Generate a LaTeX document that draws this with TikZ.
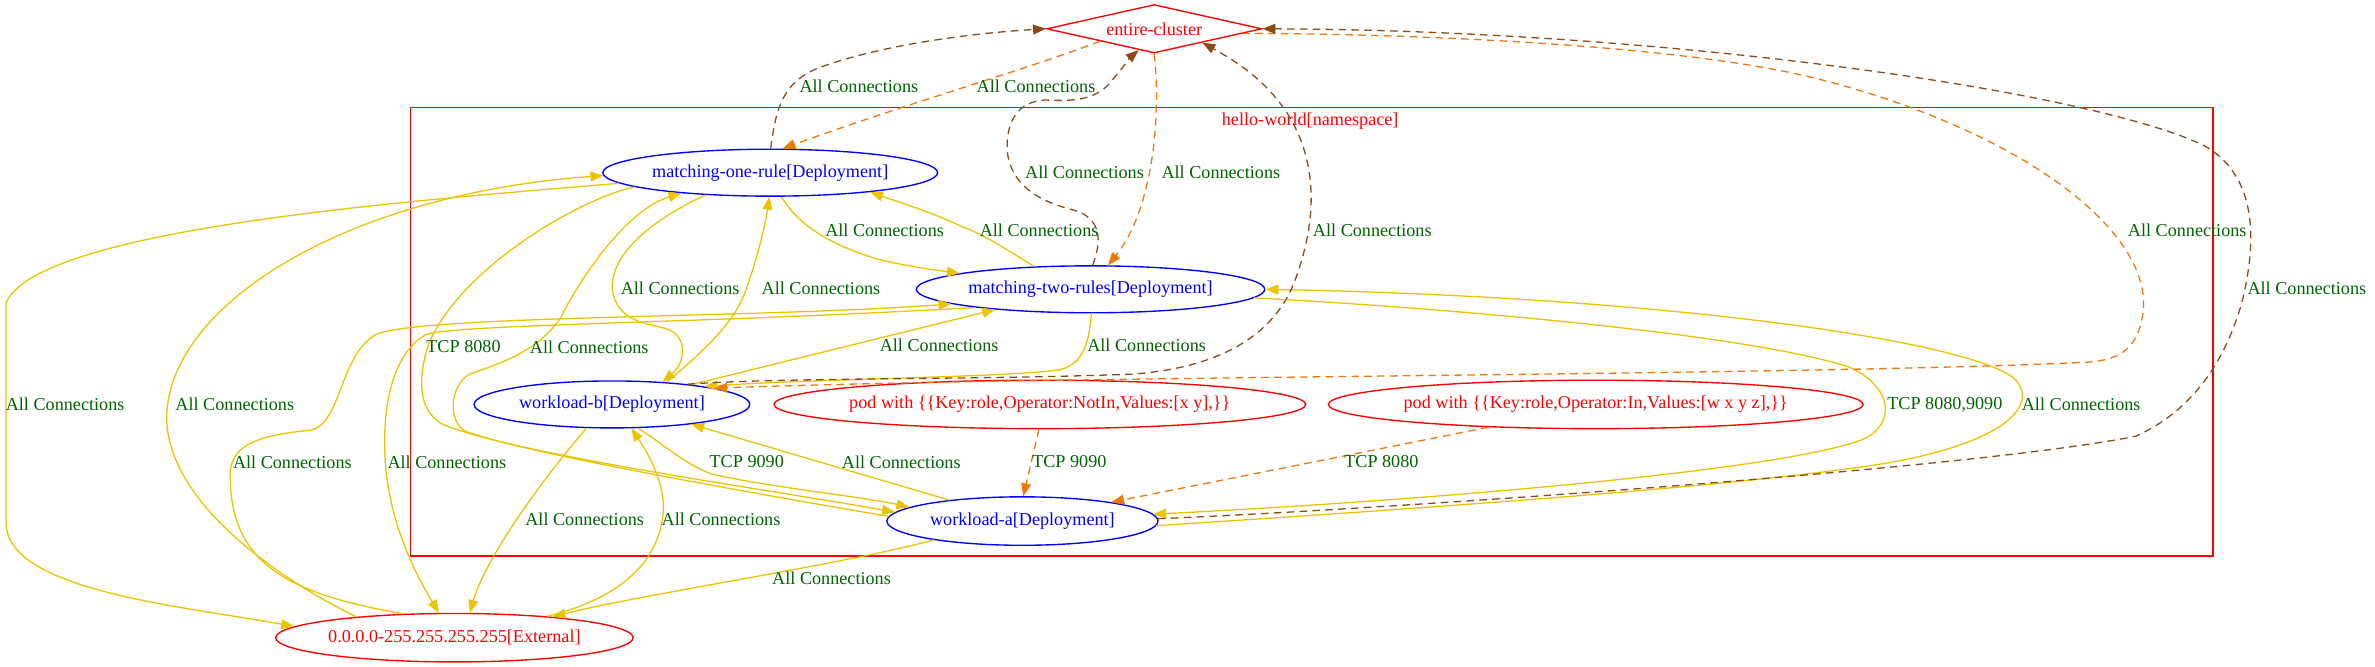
\documentclass[tikz,border=0pt]{standalone}
\usepackage{fontspec}
\setmainfont{Liberation Serif}
\usetikzlibrary{shapes.geometric,arrows.meta}
\definecolor{ylw}{RGB}{235,195,0}
\definecolor{org}{RGB}{240,120,10}
\definecolor{brn}{RGB}{140,75,20}
\definecolor{dgreen}{RGB}{0,100,0}
\begin{document}
\begin{tikzpicture}[x=1pt,y=-1pt,
  ell/.style={ellipse, draw, line width=0.9pt, inner sep=0pt},
  dep/.style={ell, draw=blue},
  ext/.style={ell, draw=red},
  ntxt/.style={font=\fontsize{12}{14}\selectfont, inner sep=0pt},
  elbl/.style={text=dgreen, font=\fontsize{12}{14}\selectfont, inner sep=0pt},
  tip/.style={-{Triangle[length=8.5pt,width=6.5pt]}},
  yl/.style={draw=ylw, line width=0.85pt, tip},
  od/.style={draw=org, line width=0.85pt, dash pattern=on 5pt off 3.5pt, tip},
  bd/.style={draw=brn, line width=0.85pt, dash pattern=on 5pt off 3.5pt, tip}]
\useasboundingbox (0,0) rectangle (1568,440);

% cluster
\draw[red, line width=0.9pt] (271,71) rectangle (1461,367);
\node[ntxt, text=red] (nslbl) at (865,80) {hello-world[namespace]};

% nodes
\node[diamond, draw=red, line width=0.9pt, minimum width=142pt, minimum height=32pt, inner sep=0pt] (EC) at (762,19) {};
\node[ntxt, text=red] (ECt) at (EC) {entire-cluster};
\node[dep, minimum width=221pt, minimum height=31pt] (M1) at (508.5,114) {};
\node[ntxt, text=blue] (M1t) at (M1) {matching-one-rule[Deployment]};
\node[dep, minimum width=230pt, minimum height=31pt] (M2) at (720,191) {};
\node[ntxt, text=blue] (M2t) at (M2) {matching-two-rules[Deployment]};
\node[dep, minimum width=182pt, minimum height=31pt] (WB) at (404,267) {};
\node[ntxt, text=blue] (WBt) at (WB) {workload-b[Deployment]};
\node[ext, minimum width=351pt, minimum height=32pt] (P1) at (686.5,267) {};
\node[ntxt, text=red] (P1t) at (P1) {pod with \{\{Key:role,Operator:NotIn,Values:[x y],\}\}};
\node[ext, minimum width=353pt, minimum height=32pt] (P2) at (1053.5,267) {};
\node[ntxt, text=red] (P2t) at (P2) {pod with \{\{Key:role,Operator:In,Values:[w x y z],\}\}};
\node[dep, minimum width=179pt, minimum height=32pt] (WA) at (675,344) {};
\node[ntxt, text=blue] (WAt) at (WA) {workload-a[Deployment]};
\node[ext, minimum width=236pt, minimum height=32pt] (EXT) at (300,421) {};
\node[ntxt, text=red] (EXTt) at (EXT) {0.0.0.0-255.255.255.255[External]};

% yellow edges
\draw[yl] (M1.184) .. controls (280,132) and (25,150) .. (4,200) -- (4,345) .. controls (4,390) and (120,400) .. (EXT.176);
\draw[yl] (EXT.168) .. controls (180,380) and (110,330) .. (110,275) .. controls (112,200) and (230,128) .. (M1.181);
\draw[yl] (EXT.155) .. controls (190,392) and (151,372) .. (152,312) .. controls (153,292) and (175,287) .. (205,284) .. controls (226,280) and (224,232) .. (250,220) .. controls (290,208) and (500,210) .. (M2.186);
\draw[yl] (M2.189) .. controls (450,214) and (300,214) .. (281,221) .. controls (262,232) and (254,260) .. (254,290) .. controls (253,340) and (275,380) .. (EXT.122);
\draw[yl] (WB.223) .. controls (355,320) and (320,370) .. (EXT.58);
\draw[yl] (EXT.13) .. controls (410,395) and (437,370) .. (438,335) .. controls (438,315) and (425,295) .. (WB.309);
\draw[yl] (WA.192) .. controls (560,372) and (420,393) .. (EXT.12);
\draw[yl] (M1.295) .. controls (528,150) and (550,162) .. (579,171) .. controls (600,176) and (615,178) .. (M2.173);
\draw[yl] (M2.158) .. controls (665,165) and (650,155) .. (636,150) .. controls (615,140) and (595,134) .. (M1.349);
\draw[yl] (WB.22) .. controls (460,235) and (485,215) .. (493,190) .. controls (500,170) and (505,150) .. (M1.268);
\draw[yl] (M1.199) .. controls (420,150) and (400,175) .. (405,195) .. controls (410,212) and (425,213) .. (440,217) .. controls (455,222) and (452,240) .. (WB.24);
\draw[yl] (WB.14) -- (M2.192);
\draw[yl] (M2.272) .. controls (719,225) and (716,240) .. (700,244) .. controls (670,249) and (540,250) .. (WB.11);
\draw[yl] (M2.357) .. controls (950,203) and (1150,220) .. (1220,242) .. controls (1250,255) and (1252,280) .. (1230,290) .. controls (1180,310) and (950,330) .. (WA.3);
\draw[yl] (WA.358) .. controls (900,338) and (1150,322) .. (1250,305) .. controls (1330,290) and (1345,265) .. (1330,250) .. controls (1300,225) and (1100,196) .. (M2.0);
\draw[yl] (WB.318) .. controls (440,295) and (455,308) .. (470,313) .. controls (510,322) and (570,328) .. (WA.173);
\draw[yl] (WA.164) -- (WB.346);
\draw[yl] (M1.186) .. controls (380,132) and (300,180) .. (282,230) .. controls (275,255) and (278,272) .. (292,280) .. controls (340,300) and (500,322) .. (WA.176);
\draw[yl] (WA.178) .. controls (500,326) and (350,300) .. (308,285) .. controls (296,280) and (296,255) .. (310,247) .. controls (330,240) and (355,232) .. (370,210) .. controls (385,180) and (415,138) .. (M1.193);

% dashed edges
\draw[bd] (M1.89) .. controls (512,75) and (515,55) .. (540,45) .. controls (580,30) and (640,22) .. (EC.west);
\draw[od] (EC.193) .. controls (680,45) and (600,68) .. (M1.63);
\draw[bd] (M2.85) .. controls (727,160) and (728,145) .. (710,139) .. controls (690,134) and (668,125) .. (665,100) .. controls (664,80) and (672,67) .. (690,66) .. controls (710,67) and (725,66) .. (735,52) .. controls (742,44) and (746,38) .. (EC.234);
\draw[od] (EC.south) .. controls (767,80) and (760,140) .. (M2.54);
\draw[bd] (WB.15) .. controls (520,249) and (640,251) .. (748,247) .. controls (800,243) and (840,225) .. (855,185) .. controls (868,150) and (872,110) .. (850,75) .. controls (835,52) and (815,40) .. (EC.344);
\draw[od] (EC.357) .. controls (900,22) and (1100,27) .. (1200,52) .. controls (1330,85) and (1420,150) .. (1415,205) .. controls (1412,230) and (1400,237) .. (1380,239) .. controls (1200,248) and (700,248) .. (WB.9);
\draw[bd] (WA.1) .. controls (900,337) and (1300,310) .. (1410,288) .. controls (1450,270) and (1470,235) .. (1480,200) .. controls (1495,140) and (1480,110) .. (1455,96) .. controls (1380,60) and (1100,20) .. (EC.east);
\draw[od] (P1.268) -- (WA.88);
\draw[od] (P2.192) -- (WA.12);

% edge labels
\node[elbl] (l1) at (43,267) {All Connections};
\node[elbl] (l2) at (155,267) {All Connections};
\node[elbl] (l3) at (193,305) {All Connections};
\node[elbl] (l4) at (295,305) {All Connections};
\node[elbl] (l5) at (306,229) {TCP 8080};
\node[elbl] (l6) at (389,229) {All Connections};
\node[elbl] (l7) at (449,190) {All Connections};
\node[elbl] (l8) at (542,190) {All Connections};
\node[elbl] (l9) at (584,152) {All Connections};
\node[elbl] (l10) at (686,152) {All Connections};
\node[elbl] (l11) at (567,57) {All Connections};
\node[elbl] (l12) at (684,57) {All Connections};
\node[elbl] (l13) at (716,114) {All Connections};
\node[elbl] (l14) at (806,114) {All Connections};
\node[elbl] (l15) at (906,152) {All Connections};
\node[elbl] (l16) at (1444,152) {All Connections};
\node[elbl] (l17) at (1523,190) {All Connections};
\node[elbl] (l18) at (620,228) {All Connections};
\node[elbl] (l19) at (757,228) {All Connections};
\node[elbl] (l20) at (1284,267) {TCP 8080,9090};
\node[elbl] (l21) at (1374,267) {All Connections};
\node[elbl] (l22) at (493,305) {TCP 9090};
\node[elbl] (l23) at (595,305) {All Connections};
\node[elbl] (l24) at (706,305) {TCP 9090};
\node[elbl] (l25) at (912,305) {TCP 8080};
\node[elbl] (l26) at (386,343) {All Connections};
\node[elbl] (l27) at (476,343) {All Connections};
\node[elbl] (l28) at (549,382) {All Connections};
\end{tikzpicture}
\end{document}
